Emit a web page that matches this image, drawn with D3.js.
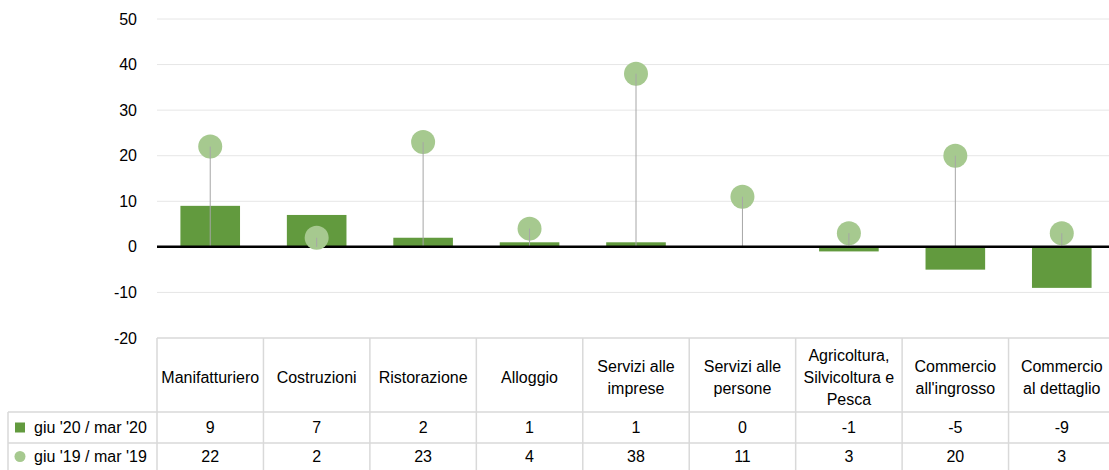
<!DOCTYPE html>
<meta charset="utf-8">
<style>
html, body { margin: 0; padding: 0; background: #fff; }
svg { font-family: "Liberation Sans", Arial, sans-serif; font-size: 16px; }
</style>
<body>
<svg width="1109" height="470"></svg>
<script src="https://d3js.org/d3.v7.min.js"></script>
<script>

// categories (header lines split on "|")
var categories = ["Manifatturiero", "Costruzioni", "Ristorazione", "Alloggio",
    "Servizi alle|imprese", "Servizi alle|persone", "Agricoltura,|Silvicoltura e|Pesca",
    "Commercio|all'ingrosso", "Commercio|al dettaglio"];
var series_names = ["giu '20 / mar '20", "giu '19 / mar '19"];
var bar_values = [9, 7, 2, 1, 1, 0, -1, -5, -9];
var dot_values = [22, 2, 23, 4, 38, 11, 3, 20, 3];
var y_ticks = [-20, -10, 0, 10, 20, 30, 40, 50];

var svg = d3.select("svg");

var bar_colour = "#629a3e",
    dot_colour = "#a6c98f",
    grid_colour = "#e6e6e6",
    table_colour = "#d9d9d9";

var right_edge = 1115;

var x = d3.scaleBand()
    .domain(d3.range(categories.length))
    .range([157, right_edge])
    .paddingInner(0.44)
    .paddingOuter(0.22);

// plain band for the table columns
var col = d3.scaleBand()
    .domain(d3.range(categories.length))
    .range([157, right_edge]);

var y = d3.scaleLinear().domain([-20, 50]).range([338, 19]);

// gridlines
svg.append("g")
    .selectAll("line")
    .data(y_ticks.filter(function(d) { return d != 0 && d != -20; }))
    .enter().append("line")
    .attr("x1", 157).attr("x2", right_edge)
    .attr("y1", function(d) { return y(d); })
    .attr("y2", function(d) { return y(d); })
    .attr("stroke", grid_colour)
    .attr("stroke-width", 1);

// y axis labels
svg.append("g")
    .selectAll("text")
    .data(y_ticks)
    .enter().append("text")
    .attr("x", 137)
    .attr("y", function(d) { return y(d); })
    .attr("dy", "0.35em")
    .attr("text-anchor", "end")
    .attr("fill", "#000")
    .text(function(d) { return d; });

// bars
svg.append("g")
    .selectAll("rect")
    .data(bar_values)
    .enter().append("rect")
    .attr("x", function(d, i) { return x(i); })
    .attr("width", x.bandwidth())
    .attr("y", function(d) { return y(Math.max(0, d)); })
    .attr("height", function(d) { return Math.abs(y(d) - y(0)); })
    .attr("fill", bar_colour);

// stems
svg.append("g")
    .selectAll("line")
    .data(dot_values)
    .enter().append("line")
    .attr("x1", function(d, i) { return x(i) + x.bandwidth() / 2; })
    .attr("x2", function(d, i) { return x(i) + x.bandwidth() / 2; })
    .attr("y1", y(0))
    .attr("y2", function(d) { return y(d); })
    .attr("stroke", "#a6a6a6")
    .attr("stroke-width", 1);

// zero line
svg.append("line")
    .attr("x1", 157).attr("x2", right_edge)
    .attr("y1", y(0)).attr("y2", y(0))
    .attr("stroke", "#000")
    .attr("stroke-width", 2.5);

// dots
svg.append("g")
    .selectAll("circle")
    .data(dot_values)
    .enter().append("circle")
    .attr("cx", function(d, i) { return x(i) + x.bandwidth() / 2; })
    .attr("cy", function(d) { return y(d); })
    .attr("r", 12)
    .attr("fill", dot_colour);

// stems on top of dots (visible through the circle)
svg.append("g")
    .selectAll("line")
    .data(dot_values)
    .enter().append("line")
    .attr("x1", function(d, i) { return x(i) + x.bandwidth() / 2; })
    .attr("x2", function(d, i) { return x(i) + x.bandwidth() / 2; })
    .attr("y1", function(d) { return y(d); })
    .attr("y2", function(d) { return Math.min(y(0), y(d) + 12); })
    .attr("stroke", "#a6a6a6")
    .attr("stroke-width", 1);

/** data table **/
var t_top = 338, t_head = 412, t_row1 = 443, t_bot = 474;
var table = svg.append("g");

// horizontal lines
table.append("line").attr("x1", 157).attr("x2", right_edge).attr("y1", t_top).attr("y2", t_top);
[t_head, t_row1, t_bot].forEach(function(yy) {
    table.append("line").attr("x1", 8).attr("x2", right_edge).attr("y1", yy).attr("y2", yy);
});
// vertical lines
table.append("line").attr("x1", 8).attr("x2", 8).attr("y1", t_head).attr("y2", t_bot);
d3.range(categories.length + 1).forEach(function(i) {
    var xx = i < categories.length ? col(i) : right_edge;
    table.append("line").attr("x1", xx).attr("x2", xx).attr("y1", t_top).attr("y2", t_bot);
});
table.selectAll("line").attr("stroke", table_colour).attr("stroke-width", 1.5);

// header text
var head = table.selectAll(".head")
    .data(categories)
    .enter().append("text")
    .attr("class", "head")
    .attr("text-anchor", "middle")
    .attr("x", function(d, i) { return col(i) + col.bandwidth() / 2; });

head.each(function(d) {
    var lines = d.split("|");
    var mid = (t_top + t_head) / 2 + 2;
    var start = mid - (lines.length - 1) * 11;
    var sel = d3.select(this);
    lines.forEach(function(l, j) {
        sel.append("tspan")
            .attr("x", sel.attr("x"))
            .attr("y", start + j * 22)
            .attr("dy", "0.35em")
            .text(l);
    });
});

// value rows
[bar_values, dot_values].forEach(function(vals, r) {
    var cy = r == 0 ? (t_head + t_row1) / 2 : (t_row1 + t_bot) / 2 - 2;
    table.append("g").selectAll("text")
        .data(vals)
        .enter().append("text")
        .attr("text-anchor", "middle")
        .attr("x", function(d, i) { return col(i) + col.bandwidth() / 2; })
        .attr("y", cy)
        .attr("dy", "0.35em")
        .text(function(d) { return d; });

    // legend label
    table.append("text")
        .attr("x", 34)
        .attr("y", cy)
        .attr("dy", "0.35em")
        .text(series_names[r]);
});

// legend keys
table.append("rect")
    .attr("x", 15).attr("y", (t_head + t_row1) / 2 - 5)
    .attr("width", 10).attr("height", 10)
    .attr("fill", bar_colour);
table.append("circle")
    .attr("cx", 20).attr("cy", (t_row1 + t_bot) / 2 - 2)
    .attr("r", 5.5)
    .attr("fill", dot_colour);

</script>
</body>
